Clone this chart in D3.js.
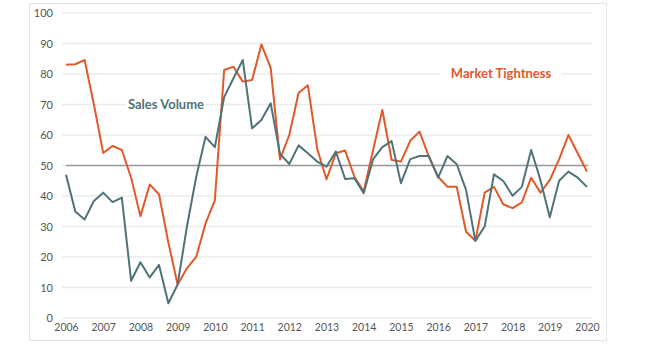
<!DOCTYPE html>
<html>
<head>
<meta charset="utf-8">
<script src="https://cdn.jsdelivr.net/npm/d3@7"></script>
<style>
  body { margin: 0; background: #fff; font-family: Lato, "Open Sans", sans-serif; }
  .tick text { fill: #555; font-size: 11px; font-family: Lato, "Open Sans", sans-serif; }
</style>
</head>
<body>
<script>
// quarterly readings, first point 2006 Q1
const years = [2006, 2007, 2008, 2009, 2010, 2011, 2012, 2013, 2014, 2015, 2016, 2017, 2018, 2019, 2020];
const yTicks = [0, 10, 20, 30, 40, 50, 60, 70, 80, 90, 100];

const marketTightness = [
  83, 83.2, 84.6, 70, 54.1, 56.4, 55.1, 46, 33.4, 43.8, 40.5, 24.8,
  11, 16.3, 20.1, 31, 38.6, 81.3, 82.4, 77.5, 78, 89.7, 82, 52,
  60, 73.8, 76.3, 55.5, 45.5, 54, 54.9, 46.3, 41.5, 55, 68.2, 51.8,
  51.3, 58.1, 61.1, 52.9, 46.3, 43, 43, 28.3, 25.3, 41.1, 43, 37.3,
  36, 37.9, 46, 41.1, 45.2, 52, 60, 54, 48
];
const salesVolume = [
  47, 34.9, 32.3, 38.4, 41.1, 38, 39.5, 12.2, 18.3, 13.3, 17.4, 4.8,
  11, 30, 46.3, 59.4, 56, 72.4, 78.6, 84.6, 62.2, 64.9, 70.4, 53.8,
  50.5, 56.6, 54, 51.3, 49.6, 54.6, 45.6, 45.8, 40.9, 52, 56, 58,
  44.2, 52.1, 53.1, 53.1, 46, 53.1, 50.4, 42, 25.3, 30, 47.1, 44.9,
  40.1, 43, 55.1, 45.2, 33, 45, 48, 46, 43
];
const quarters = d3.range(marketTightness.length).map(i => years[0] + i / 4);

const width = 650;
const height = 361;

const svg = d3.select("body").append("svg")
  .attr("width", width)
  .attr("height", height);

// ! frame
svg.append("rect")
  .attr("x", 29.5).attr("y", 3.5)
  .attr("width", 577).attr("height", 337)
  .attr("fill", "#fff")
  .attr("stroke", "#e4e4e4");

const x = d3.scaleLinear().domain([2006, 2020]).range([66, 587]);
const y = d3.scaleLinear().domain([0, 100]).range([318, 13]);

// ! grid
svg.append("g").selectAll("line")
  .data(yTicks)
  .join("line")
  .attr("x1", 62).attr("x2", 592)
  .attr("y1", d => y(d)).attr("y2", d => y(d))
  .attr("stroke", "#ebebeb")
  .attr("stroke-width", 1.5);

// ! y axis
const yAxis = svg.append("g")
  .attr("transform", "translate(53,0)")
  .call(d3.axisLeft(y).tickValues(yTicks).tickSize(0).tickPadding(0));
yAxis.select(".domain").remove();

// ! x axis
const xAxis = svg.append("g")
  .attr("transform", "translate(0,324)")
  .call(d3.axisBottom(x).tickValues(years).tickSize(0).tickPadding(0).tickFormat(d3.format("d")));
xAxis.select(".domain").remove();
xAxis.selectAll("text").attr("dy", "0.71em").style("font-size", "10.5px");

// ! labels with white background
const labels = [
  { text: "Sales Volume", color: "#4e7378", cx: 166, cy: 104, w: 80 },
  { text: "Market Tightness", color: "#e0592b", cx: 501, cy: 73, w: 122 }
];
labels.forEach(l => {
  svg.append("rect")
    .attr("x", l.cx - l.w / 2).attr("y", l.cy - 6)
    .attr("width", l.w).attr("height", 12)
    .attr("fill", "#fff");
  svg.append("text")
    .attr("x", l.cx).attr("y", l.cy)
    .attr("dy", "0.35em")
    .attr("text-anchor", "middle")
    .style("font-weight", "bold")
    .style("font-size", "13px")
    .style("fill", l.color)
    .text(l.text);
});

// ! 50 reference line
svg.append("line")
  .attr("x1", 66).attr("x2", 588)
  .attr("y1", y(50)).attr("y2", y(50))
  .attr("stroke", "#9a9a9a")
  .attr("stroke-width", 1.5);

// ! series
const line = d3.line()
  .x((d, i) => x(quarters[i]))
  .y(d => y(d));

svg.append("path")
  .datum(marketTightness)
  .attr("d", line)
  .attr("fill", "none")
  .attr("stroke", "#e0592b")
  .attr("stroke-width", 2)
  .attr("stroke-linejoin", "round");

svg.append("path")
  .datum(salesVolume)
  .attr("d", line)
  .attr("fill", "none")
  .attr("stroke", "#4e7378")
  .attr("stroke-width", 2)
  .attr("stroke-linejoin", "round");
</script>
</body>
</html>
